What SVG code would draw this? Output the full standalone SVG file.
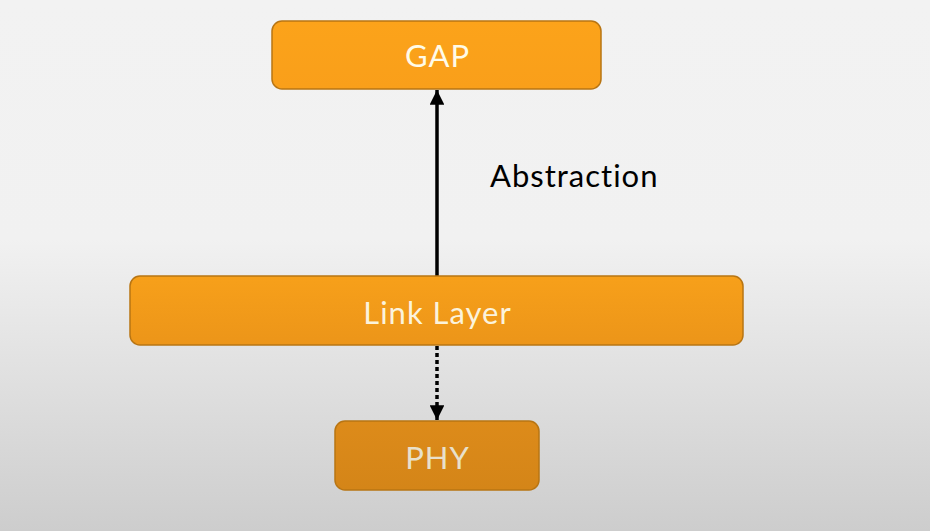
<svg xmlns="http://www.w3.org/2000/svg" width="930" height="531" viewBox="0 0 930 531">
<defs>
<linearGradient id="bg" x1="0" y1="0" x2="0" y2="1">
<stop offset="0" stop-color="#f2f2f2"/>
<stop offset="0.45" stop-color="#f1f1f1"/>
<stop offset="1" stop-color="#cdcdcd"/>
</linearGradient>
<linearGradient id="gGap" x1="0" y1="0" x2="0" y2="1">
<stop offset="0" stop-color="#fca31a"/>
<stop offset="1" stop-color="#f99f1a"/>
</linearGradient>
<linearGradient id="gLink" x1="0" y1="0" x2="0" y2="1">
<stop offset="0" stop-color="#f7a01a"/>
<stop offset="1" stop-color="#ec9519"/>
</linearGradient>
<linearGradient id="gPhy" x1="0" y1="0" x2="0" y2="1">
<stop offset="0" stop-color="#dd8b1a"/>
<stop offset="1" stop-color="#d48518"/>
</linearGradient>
<marker id="ah" viewBox="0 0 10 10" refX="10" refY="5" markerWidth="4.2" markerHeight="4.2" orient="auto" markerUnits="strokeWidth">
<path d="M0,0 L10,5 L0,10 Z" fill="#000"/>
</marker>
</defs>
<style>
.box{stroke:#b87513;stroke-width:1.5}
.lbl{font-family:Lato,"Open Sans","Liberation Sans",sans-serif;text-anchor:middle;letter-spacing:1px}
.conn{stroke:#000;stroke-width:3.5;fill:none}
</style>
<rect width="930" height="531" fill="url(#bg)"/>
<g id="connectors">
<line class="conn" x1="437" y1="276" x2="437" y2="90" marker-end="url(#ah)"/>
<line class="conn" x1="437" y1="346" x2="437" y2="420" stroke-width="4" stroke-dasharray="4,3" marker-end="url(#ah)"/>
</g>
<g id="gap">
<rect class="box" x="272" y="21" width="329" height="68" rx="10" fill="url(#gGap)"/>
<text class="lbl" x="437.5" y="67" font-size="31" fill="#fffbe8">GAP</text>
</g>
<g id="link">
<rect class="box" x="130" y="276" width="613" height="69" rx="10" fill="url(#gLink)"/>
<text class="lbl" x="437.5" y="324" font-size="31" fill="#fbf3dc">Link Layer</text>
</g>
<g id="phy">
<rect class="box" x="335" y="421" width="204" height="69" rx="10" fill="url(#gPhy)" stroke="#a86a12"/>
<text class="lbl" x="437.5" y="469" font-size="31" fill="#e8e0cc">PHY</text>
</g>
<g id="abstraction">
<text x="490" y="187" font-family="Lato,'Open Sans','Liberation Sans',sans-serif" font-size="31" letter-spacing="1" fill="#000">Abstraction</text>
</g>
</svg>
